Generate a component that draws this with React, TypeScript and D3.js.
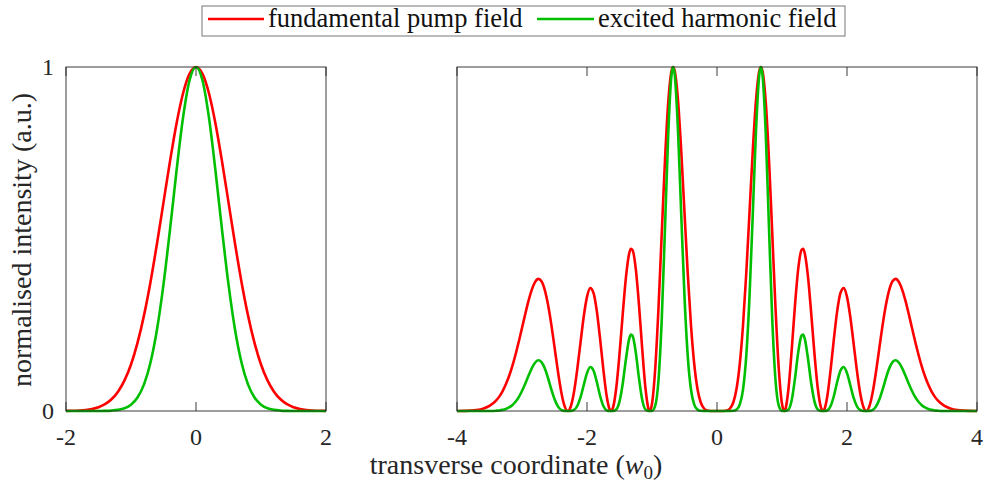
import React from "react";
import * as d3 from "d3";

// ---------- DATA ----------
// Left panel: Gaussian profiles
const leftX = [-2, -1.9, -1.8, -1.7, -1.6, -1.5, -1.4, -1.3, -1.2, -1.1, -1.0, -0.9, -0.8, -0.7, -0.6, -0.5, -0.4, -0.3, -0.2, -0.1, 0,
  0.1, 0.2, 0.3, 0.4, 0.5, 0.6, 0.7, 0.8, 0.9, 1.0, 1.1, 1.2, 1.3, 1.4, 1.5, 1.6, 1.7, 1.8, 1.9, 2];
const leftPump = [0.0003, 0.0007, 0.0015, 0.0031, 0.0060, 0.0111, 0.0198, 0.0340, 0.0561, 0.0889, 0.1353, 0.1979, 0.2780, 0.3753, 0.4868, 0.6065, 0.7261, 0.8353, 0.9231, 0.9802, 1,
  0.9802, 0.9231, 0.8353, 0.7261, 0.6065, 0.4868, 0.3753, 0.2780, 0.1979, 0.1353, 0.0889, 0.0561, 0.0340, 0.0198, 0.0111, 0.0060, 0.0031, 0.0015, 0.0007, 0.0003];
const leftHarmonic = [0, 0, 0, 0, 0, 0.0001, 0.0004, 0.0012, 0.0032, 0.0079, 0.0183, 0.0392, 0.0773, 0.1409, 0.2369, 0.3679, 0.5273, 0.6977, 0.8521, 0.9608, 1,
  0.9608, 0.8521, 0.6977, 0.5273, 0.3679, 0.2369, 0.1409, 0.0773, 0.0392, 0.0183, 0.0079, 0.0032, 0.0012, 0.0004, 0.0001, 0, 0, 0, 0, 0];

// Right panel: multi-lobe profiles
const rightX = [
  -4.0, -3.9, -3.8, -3.7, -3.6, -3.5, -3.4, -3.35, -3.3, -3.25,
  -3.2, -3.15, -3.1, -3.05, -3.0, -2.95, -2.9, -2.85, -2.8, -2.75,
  -2.7, -2.65, -2.6, -2.55, -2.5, -2.45, -2.4, -2.35, -2.295, -2.25,
  -2.2, -2.15, -2.1, -2.05, -2.0, -1.95, -1.9, -1.85, -1.8, -1.75,
  -1.7, -1.65, -1.633, -1.6, -1.55, -1.5, -1.45, -1.4, -1.35, -1.325,
  -1.3, -1.25, -1.2, -1.15, -1.1, -1.05, -1.034, -1.0, -0.95, -0.9,
  -0.85, -0.8, -0.75, -0.7, -0.675, -0.65, -0.6, -0.55, -0.5, -0.45,
  -0.4, -0.35, -0.3, -0.25, -0.2, -0.15, -0.1, -0.05,
  0,
  0.05, 0.1, 0.15, 0.2, 0.25, 0.3, 0.35, 0.4, 0.45,
  0.5, 0.55, 0.6, 0.65, 0.675, 0.7, 0.75, 0.8, 0.85, 0.9,
  0.95, 1.0, 1.034, 1.05, 1.1, 1.15, 1.2, 1.25, 1.3, 1.325,
  1.35, 1.4, 1.45, 1.5, 1.55, 1.6, 1.633, 1.65, 1.7, 1.75,
  1.8, 1.85, 1.9, 1.95, 2.0, 2.05, 2.1, 2.15, 2.2, 2.25,
  2.295, 2.35, 2.4, 2.45, 2.5, 2.55, 2.6, 2.65, 2.7, 2.75,
  2.8, 2.85, 2.9, 2.95, 3.0, 3.05, 3.1, 3.15, 3.2, 3.25,
  3.3, 3.35, 3.4, 3.5, 3.6, 3.7, 3.8, 3.9, 4.0,
];
const rightPump = [
  0.0001, 0.0004, 0.0011, 0.0028, 0.0066, 0.0146, 0.0300, 0.0418, 0.0572, 0.0768,
  0.1010, 0.1300, 0.1636, 0.2012, 0.2413, 0.2818, 0.3199, 0.3521, 0.3747, 0.3840,
  0.3770, 0.3521, 0.3096, 0.2526, 0.1863, 0.1188, 0.0592, 0.0170, 0, 0.0130,
  0.0552, 0.1210, 0.1989, 0.2747, 0.3318, 0.3573, 0.3433, 0.2917, 0.2123, 0.1232,
  0.0467, 0.0040, 0, 0.0097, 0.0668, 0.1652, 0.2826, 0.3899, 0.4585, 0.4714,
  0.4682, 0.4137, 0.3078, 0.1791, 0.0654, 0.0039, 0, 0.0209, 0.1242, 0.3001,
  0.5162, 0.7296, 0.8977, 0.9885, 1, 0.9882, 0.9028, 0.7551, 0.5767, 0.3996,
  0.2485, 0.1362, 0.0641, 0.0247, 0.0073, 0.0014, 0.0001, 0,
  0,
  0, 0.0001, 0.0014, 0.0073, 0.0247, 0.0641, 0.1362, 0.2485, 0.3996,
  0.5767, 0.7551, 0.9028, 0.9882, 1, 0.9885, 0.8977, 0.7296, 0.5162, 0.3001,
  0.1242, 0.0209, 0, 0.0039, 0.0654, 0.1791, 0.3078, 0.4137, 0.4682, 0.4714,
  0.4585, 0.3899, 0.2826, 0.1652, 0.0668, 0.0097, 0, 0.0040, 0.0467, 0.1232,
  0.2123, 0.2917, 0.3433, 0.3573, 0.3318, 0.2747, 0.1989, 0.1210, 0.0552, 0.0130,
  0, 0.0170, 0.0592, 0.1188, 0.1863, 0.2526, 0.3096, 0.3521, 0.3770, 0.3840,
  0.3747, 0.3521, 0.3199, 0.2818, 0.2413, 0.2012, 0.1636, 0.1300, 0.1010, 0.0768,
  0.0572, 0.0418, 0.0300, 0.0146, 0.0066, 0.0028, 0.0011, 0.0004, 0.0001,
];
const rightHarmonic = [
  0, 0, 0, 0, 0, 0.0002, 0.0009, 0.0017, 0.0033, 0.0059,
  0.0102, 0.0169, 0.0268, 0.0405, 0.0582, 0.0794, 0.1023, 0.1240, 0.1404, 0.1475,
  0.1421, 0.1240, 0.0959, 0.0638, 0.0347, 0.0141, 0.0035, 0.0003, 0, 0.0002,
  0.0030, 0.0146, 0.0396, 0.0755, 0.1101, 0.1277, 0.1179, 0.0851, 0.0451, 0.0152,
  0.0022, 0, 0, 0.0001, 0.0045, 0.0273, 0.0799, 0.1520, 0.2102, 0.2222,
  0.2192, 0.1711, 0.0947, 0.0321, 0.0043, 0, 0, 0.0004, 0.0154, 0.0901,
  0.2665, 0.5323, 0.8059, 0.9771, 1, 0.9765, 0.8150, 0.5702, 0.3326, 0.1597,
  0.0618, 0.0186, 0.0041, 0.0006, 0.0001, 0, 0, 0,
  0,
  0, 0, 0, 0.0001, 0.0006, 0.0041, 0.0186, 0.0618, 0.1597,
  0.3326, 0.5702, 0.8150, 0.9765, 1, 0.9771, 0.8059, 0.5323, 0.2665, 0.0901,
  0.0154, 0.0004, 0, 0, 0.0043, 0.0321, 0.0947, 0.1711, 0.2192, 0.2222,
  0.2102, 0.1520, 0.0799, 0.0273, 0.0045, 0.0001, 0, 0, 0.0022, 0.0152,
  0.0451, 0.0851, 0.1179, 0.1277, 0.1101, 0.0755, 0.0396, 0.0146, 0.0030, 0.0002,
  0, 0.0003, 0.0035, 0.0141, 0.0347, 0.0638, 0.0959, 0.1240, 0.1421, 0.1475,
  0.1404, 0.1240, 0.1023, 0.0794, 0.0582, 0.0405, 0.0268, 0.0169, 0.0102, 0.0059,
  0.0033, 0.0017, 0.0009, 0.0002, 0, 0, 0, 0, 0,
];

const leftTicks = [-2, 0, 2];
const rightTicks = [-4, -2, 0, 2, 4];
const yTicks = [0, 1];
const seriesNames = ["fundamental pump field", "excited harmonic field"];
const seriesColors = ["#ff0000", "#00bf00"];

// ---------- LAYOUT ----------
const W = 984;
const H = 485;
const TOP = 67;
const BOTTOM = 411;
const FONT = "Liberation Serif";
const AXIS = "#262626";
const TICK_LEN = 9;

const txt = (size: number): React.CSSProperties => ({
  fontFamily: FONT,
  fontSize: size,
});

type PanelProps = {
  x0: number;
  x1: number;
  domain: [number, number];
  ticks: number[];
  xs: number[];
  pump: number[];
  harm: number[];
  showY: boolean;
};

function Panel({ x0, x1, domain, ticks, xs, pump, harm, showY }: PanelProps) {
  const x = d3.scaleLinear().domain(domain).range([x0, x1]);
  const y = d3.scaleLinear().domain([0, 1]).range([BOTTOM, TOP]);
  const line = d3
    .line<[number, number]>()
    .x((d) => x(d[0]))
    .y((d) => y(d[1]))
    .curve(d3.curveMonotoneX);
  const pumpPath = line(xs.map((v, i) => [v, pump[i]] as [number, number])) || "";
  const harmPath = line(xs.map((v, i) => [v, harm[i]] as [number, number])) || "";
  return (
    <g>
      <path d={pumpPath} fill="none" stroke={seriesColors[0]} strokeWidth={2.6} strokeLinejoin="round" />
      <path d={harmPath} fill="none" stroke={seriesColors[1]} strokeWidth={2.6} strokeLinejoin="round" />
      <rect x={x0} y={TOP} width={x1 - x0} height={BOTTOM - TOP} fill="none" stroke={AXIS} strokeWidth={0.9} />
      {ticks.map((t) => (
        <g key={"t" + t}>
          <line x1={x(t)} x2={x(t)} y1={BOTTOM} y2={BOTTOM - TICK_LEN} stroke={AXIS} strokeWidth={0.9} />
          <line x1={x(t)} x2={x(t)} y1={TOP} y2={TOP + TICK_LEN} stroke={AXIS} strokeWidth={0.9} />
          <text x={x(t)} y={445} textAnchor="middle" style={txt(24)} fill={AXIS}>
            {String(t)}
          </text>
        </g>
      ))}
      {showY &&
        yTicks.map((t) => (
          <text key={"y" + t} x={x0 - 12} y={y(t) + 8} textAnchor="end" style={txt(24)} fill={AXIS}>
            {String(t)}
          </text>
        ))}
    </g>
  );
}

export default function App() {
  const legendY = 19;
  return (
    <svg
      width={W}
      height={H}
      viewBox={`0 0 ${W} ${H}`}
      style={{ position: "absolute", left: 0, top: 0, display: "block", background: "white" }}
    >
      <rect x={0} y={0} width={W} height={H} fill="white" />
      <Panel x0={66} x1={326} domain={[-2, 2]} ticks={leftTicks} xs={leftX} pump={leftPump} harm={leftHarmonic} showY={true} />
      <Panel x0={457} x1={977} domain={[-4, 4]} ticks={rightTicks} xs={rightX} pump={rightPump} harm={rightHarmonic} showY={false} />

      <text transform="translate(31,240) rotate(-90)" textAnchor="middle" style={txt(28)} fill={AXIS}>
        normalised intensity (a.u.)
      </text>

      <text x={516} y={474} textAnchor="middle" style={txt(28)} fill={AXIS}>
        transverse coordinate (<tspan style={{ fontStyle: "italic" }}>w</tspan>
        <tspan style={{ fontSize: 19 }} dy={5}>0</tspan>
        <tspan dy={-5}>)</tspan>
      </text>

      <rect x={202} y={6} width={643} height={30} fill="white" stroke="#777" strokeWidth={1} />
      <line x1={208} x2={264} y1={legendY} y2={legendY} stroke={seriesColors[0]} strokeWidth={2.6} />
      <text x={268} y={legendY + 8} style={txt(26.5)} fill="#111">
        {seriesNames[0]}
      </text>
      <line x1={537} x2={594} y1={legendY} y2={legendY} stroke={seriesColors[1]} strokeWidth={2.6} />
      <text x={598} y={legendY + 8} style={txt(26.5)} fill="#111">
        {seriesNames[1]}
      </text>
    </svg>
  );
}
